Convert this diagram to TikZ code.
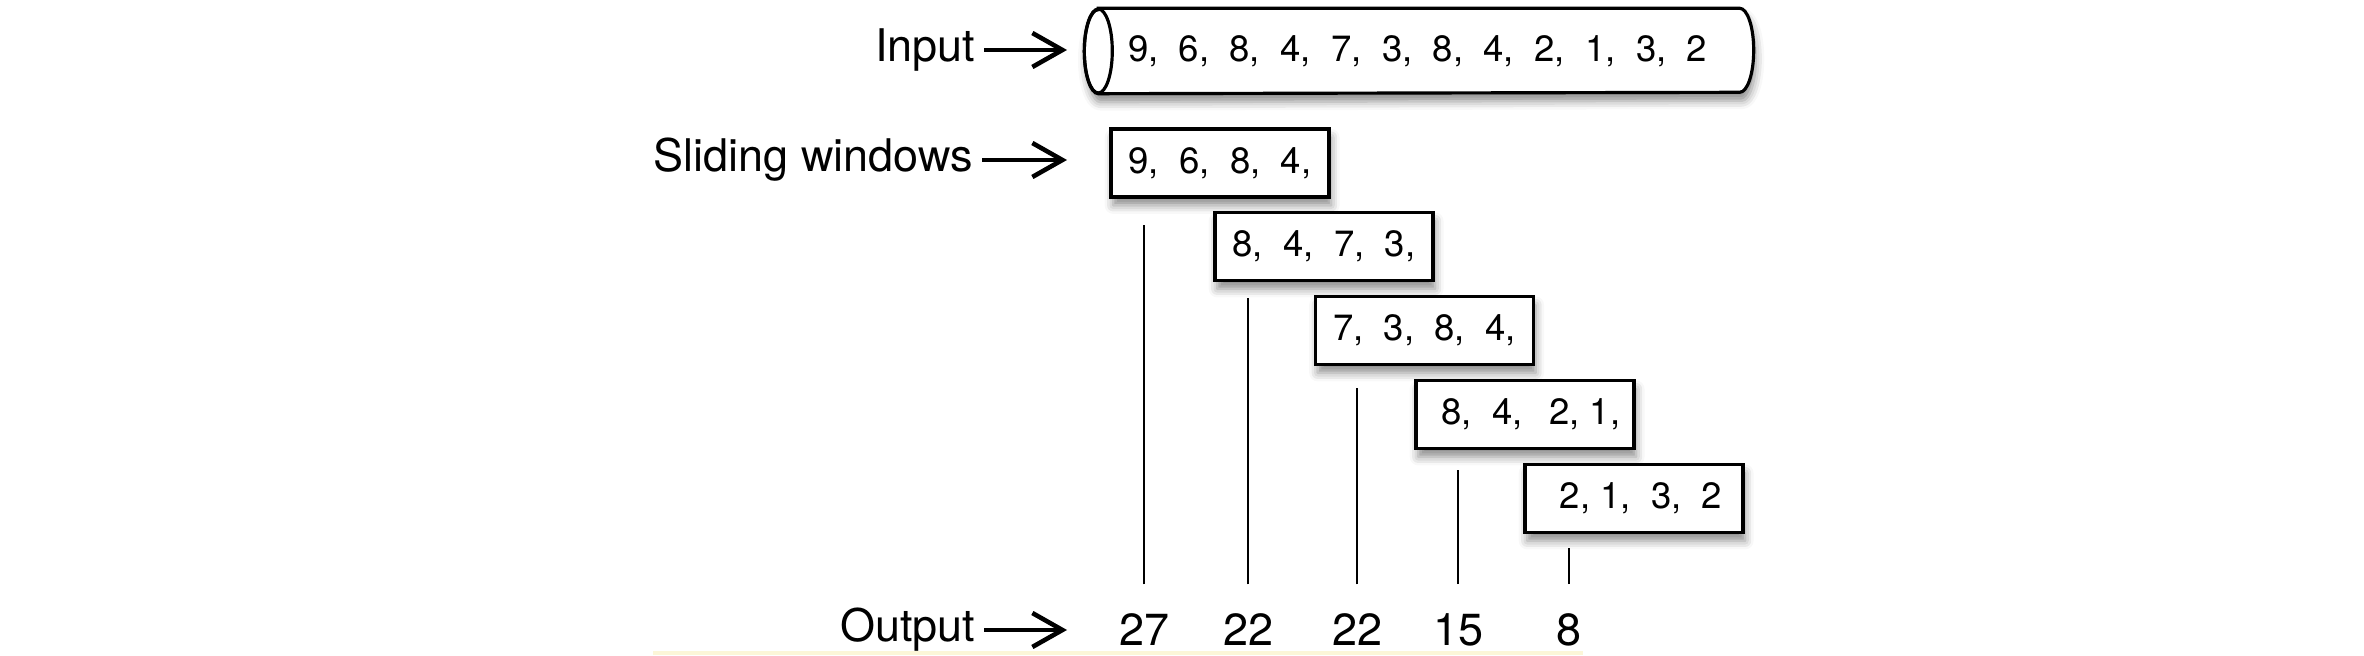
\documentclass[tikz,border=0pt]{standalone}
\usepackage{fontspec}
\setmainfont{TeX Gyre Heros}
\usepackage{xcolor}
\usepackage{tikz}
\usetikzlibrary{arrows.meta, positioning, shadows.blur}
\definecolor{rulecream}{RGB}{252,246,216}

\begin{document}
\begin{tikzpicture}[
  rowlabel/.style={
    inner sep=0pt, anchor=east,
    font=\fontsize{12.8}{15}\selectfont
  },
  window/.style={
    rectangle, draw=black, line width=0.9pt, fill=white,
    minimum width=2.18cm, minimum height=0.68cm, inner sep=0pt,
    font=\fontsize{10.4}{12}\selectfont,
    blur shadow={shadow xshift=0.6pt, shadow yshift=-2.4pt,
      shadow blur radius=2.4pt, shadow opacity=45}
  },
  tube/.style={
    draw=black, line width=0.9pt, fill=white,
    blur shadow={shadow xshift=0.6pt, shadow yshift=-2.4pt,
      shadow blur radius=2.4pt, shadow opacity=45}
  },
  seq/.style={inner sep=0pt, font=\fontsize{10.4}{12}\selectfont},
  result/.style={inner sep=0pt, font=\fontsize{12.8}{15}\selectfont},
  feed/.style={-{Straight Barb[length=3mm, width=3.4mm]}, line width=1.3pt,
    shorten <=0.08cm},
  tick/.style={line width=0.7pt}
]
\useasboundingbox (0,0) rectangle (23.64,-6.56);

% ── Input stream ──
\node[rowlabel] (lblin) at (9.76,-0.50) {Input};
\node[inner sep=0pt, minimum width=6.40cm, minimum height=0.84cm] (streambody) at (14.19,-0.51) {};
\draw[tube] (streambody.north west) -- (streambody.north east)
  arc[start angle=90, end angle=-90, x radius=0.14, y radius=0.42]
  -- (streambody.south west)
  arc[start angle=270, end angle=90, x radius=0.14, y radius=0.42] -- cycle;
\draw[line width=0.9pt] (streambody.west) ellipse [x radius=0.14, y radius=0.42];
\node[seq, right=0.29cm of streambody.west] (stream)
  {9,~ 6,~ 8,~ 4,~ 7,~ 3,~ 8,~ 4,~ 2,~ 1,~ 3,~ 2};

% ── Sliding windows ──
\node[rowlabel] (lblwin) at (9.74,-1.60) {Sliding windows};
\node[window] (win1) at (12.20,-1.63) {9,~ 6,~ 8,~ 4,};
\node[window] (win2) at (13.24,-2.465) {8,~ 4,~ 7,~ 3,};
\node[window] (win3) at (14.245,-3.305) {7,~ 3,~ 8,~ 4,};
\node[window] (win4) at (15.25,-4.145) {\hspace{0.12cm}8,~ 4,~\, 2, 1,};
\node[window] (win5) at (16.34,-4.985) {\hspace{0.14cm}2, 1,~ 3,~ 2};

% ── Output ──
\node[rowlabel] (lblout) at (9.76,-6.30) {Output};
\node[result] (out1) at (11.44,-6.30) {27};
\node[result] (out2) at (12.48,-6.30) {22};
\node[result] (out3) at (13.57,-6.30) {22};
\node[result] (out4) at (14.58,-6.30) {15};
\node[result] (out5) at (15.69,-6.30) {8};

% ── Arrow tips ──
\coordinate (tipin) at (10.67,-0.50);
\coordinate (tipwin) at (10.67,-1.60);
\coordinate (tipout) at (10.67,-6.30);

% ── Arrows: labels ──
\draw[feed] (lblin.east) -- (tipin);
\draw[feed] (lblwin.east) -- (tipwin);
\draw[feed] (lblout.east) -- (tipout);

% ── Lines: windows to outputs ──
\draw[tick, shorten <=0.29cm, shorten >=0.26cm] (out1.north) -- (out1.north |- win1.south);
\draw[tick, shorten <=0.29cm, shorten >=0.16cm] (out2.north) -- (out2.north |- win2.south);
\draw[tick, shorten <=0.29cm, shorten >=0.22cm] (out3.north) -- (out3.north |- win3.south);
\draw[tick, shorten <=0.29cm, shorten >=0.20cm] (out4.north) -- (out4.north |- win4.south);
\draw[tick, shorten <=0.29cm, shorten >=0.14cm] (out5.north) -- (out5.north |- win5.south);

% ── Faint base rule ──
\coordinate (rulel) at (6.53,-6.53);
\coordinate (ruler) at (15.83,-6.53);
\draw[draw=rulecream, line width=1.2pt] (rulel) -- (ruler);

\end{tikzpicture}
\end{document}
